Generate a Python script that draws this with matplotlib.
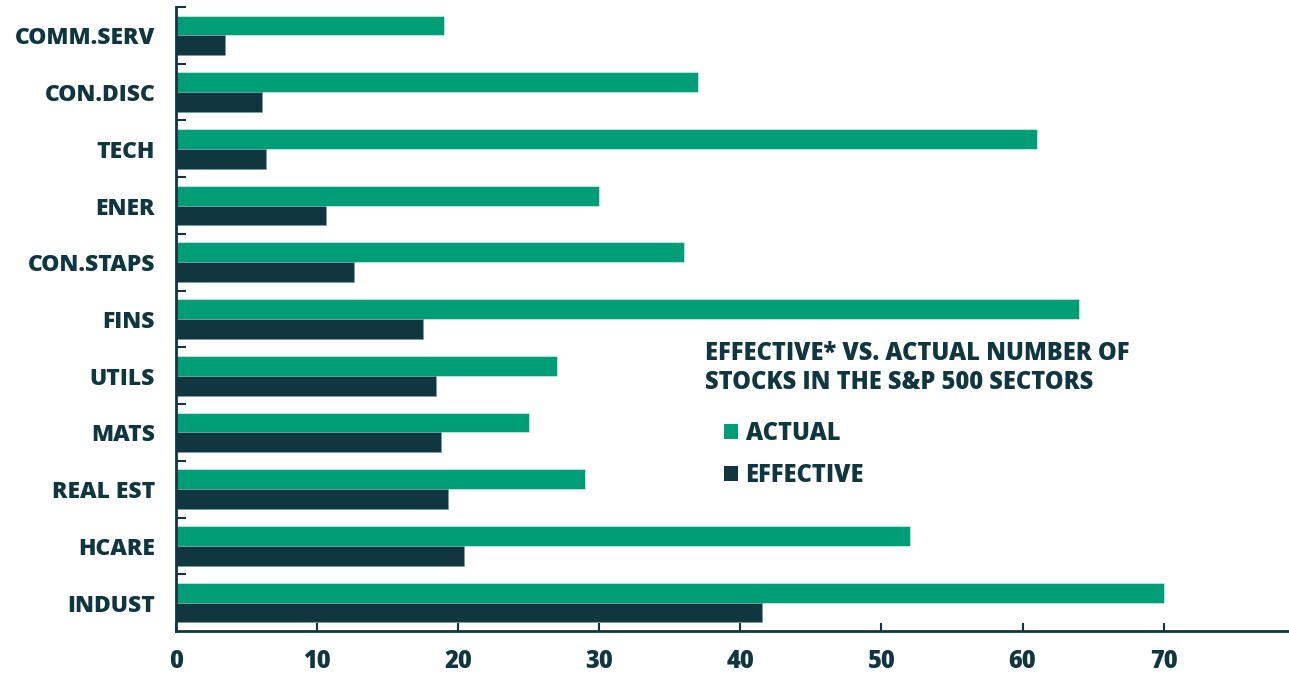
import matplotlib
matplotlib.use("Agg")
import matplotlib.pyplot as plt
import numpy as np
from matplotlib.patches import Patch

categories = ["COMM.SERV", "CON.DISC", "TECH", "ENER", "CON.STAPS", "FINS",
              "UTILS", "MATS", "REAL EST", "HCARE", "INDUST"]
actual = [19, 37, 61, 30, 36, 64, 27, 25, 29, 52, 70]
effective = [3.5, 6.1, 6.4, 10.6, 12.6, 17.5, 18.4, 18.8, 19.3, 20.4, 41.5]
xticks = [0, 10, 20, 30, 40, 50, 60, 70]

GREEN = "#009E77"
DARK = "#10363F"

plt.rcParams['font.family'] = ['Open Sans', 'DejaVu Sans']
plt.rcParams['font.weight'] = 'heavy'

fig = plt.figure(figsize=(12.89, 6.75), dpi=100)
ax = fig.add_axes([176/1289, 44/675, 1 - 176/1289 + 0.01, (631-7)/675])

y = np.arange(len(categories))
h = 0.35
ax.barh(y - h/2, actual, height=h, color=GREEN, edgecolor="#cfeee4", linewidth=0.5)
ax.barh(y + h/2, effective, height=h, color=DARK, edgecolor="#7a9aa0", linewidth=0.5)

ax.set_ylim(len(categories) - 0.5, -0.5)
ax.set_xlim(0, 79.8)

ax.set_yticks(y)
ax.set_yticklabels(categories, fontsize=16.5, fontweight='heavy', color=DARK)
ax.tick_params(axis='y', which='major', length=0, pad=15)
ax.set_yticks(np.arange(-0.5, len(categories) - 0.5, 1), minor=True)
ax.tick_params(axis='y', which='minor', direction='in', length=7, width=1.5, color=DARK)

ax.set_xticks(xticks)
ax.set_xticklabels([str(t) for t in xticks], fontsize=17, fontweight='heavy', color=DARK)
ax.tick_params(axis='x', direction='in', length=6, width=1.5, color=DARK, pad=13)

for s in ['top', 'right']:
    ax.spines[s].set_visible(False)
for s in ['left', 'bottom']:
    ax.spines[s].set_color(DARK)
    ax.spines[s].set_linewidth(2)

ax.text(705/1289, (675-341)/675, "EFFECTIVE* VS. ACTUAL NUMBER OF\nSTOCKS IN THE S&P 500 SECTORS",
        transform=fig.transFigure, fontsize=17, fontweight='heavy', color=DARK,
        va='top', ha='left', linespacing=1.2)

handles = [Patch(facecolor=GREEN, label="ACTUAL"), Patch(facecolor=DARK, label="EFFECTIVE")]
leg = fig.legend(handles=handles, loc='upper left', bbox_to_anchor=(703/1289, (675-400)/675),
                 frameon=False, fontsize=17, handlelength=0.6, handleheight=0.6,
                 handletextpad=0.3, labelspacing=0.7, labelcolor=DARK)
for t in leg.get_texts():
    t.set_fontweight('heavy')

fig.savefig("out.png", dpi=100)
